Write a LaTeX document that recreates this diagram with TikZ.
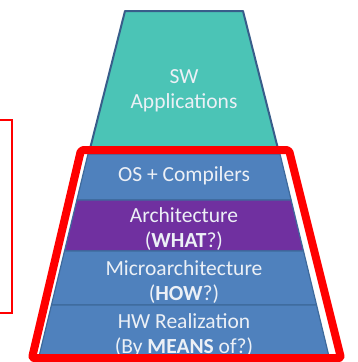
\documentclass[tikz,border=0pt]{standalone}
\usepackage{fontspec}
\setmainfont{Carlito}
\usepackage{tikz}
\definecolor{swteal}{RGB}{75,196,182}
\definecolor{swedge}{RGB}{56,93,138}
\definecolor{hwblue}{RGB}{79,129,189}
\definecolor{hwedge}{RGB}{62,106,156}
\definecolor{isapurple}{RGB}{112,48,160}
\definecolor{txt}{RGB}{236,240,246}

\begin{document}
\begin{tikzpicture}[x=1pt, y=-1pt,
  lbl/.style={align=center, text=txt, font=\fontsize{21.5}{25}\selectfont, inner sep=0pt},
  layer/.style={draw=hwedge, line width=1.2pt, line join=round},
  frame/.style={draw=red, line width=8pt, line join=round, rounded corners=2pt}]
\useasboundingbox (0,0) rectangle (357,362);
% stack of layers
\draw[layer, fill=swteal, draw=swedge, line width=2pt] (125,11) -- (243,11) -- (277.8,148) -- (90.2,148) -- cycle;
\foreach \ya/\yb/\col in {154/200/hwblue, 200/251/isapurple, 251/305/hwblue, 305/357/hwblue} {
  \pgfmathsetmacro\la{88-0.242*(\ya-154)}
  \pgfmathsetmacro\ra{280+0.242*(\ya-154)}
  \pgfmathsetmacro\lb{88-0.242*(\yb-154)}
  \pgfmathsetmacro\rb{280+0.242*(\yb-154)}
  \draw[layer, fill=\col] (\la,\ya) -- (\ra,\ya) -- (\rb,\yb) -- (\lb,\yb) -- cycle;
}
\node[lbl] (sw) at (184,91) {SW\\Applications};
\node[lbl] (os) at (184,176) {OS + Compilers};
\node[lbl] (arch) at (184,229) {Architecture\\(\textbf{WHAT}?)};
\node[lbl] (uarch) at (184,282) {Microarchitecture\\(\textbf{HOW}?)};
\node[lbl] (hw) at (184,335) {HW Realization\\(By \textbf{MEANS} of?)};
% red frames
\draw[frame] (81,150) -- (289,150) -- (341,358) -- (32,358) -- cycle;
\draw[red, line width=1.3pt] (-5,120) rectangle (12,313);
\end{tikzpicture}
\end{document}
